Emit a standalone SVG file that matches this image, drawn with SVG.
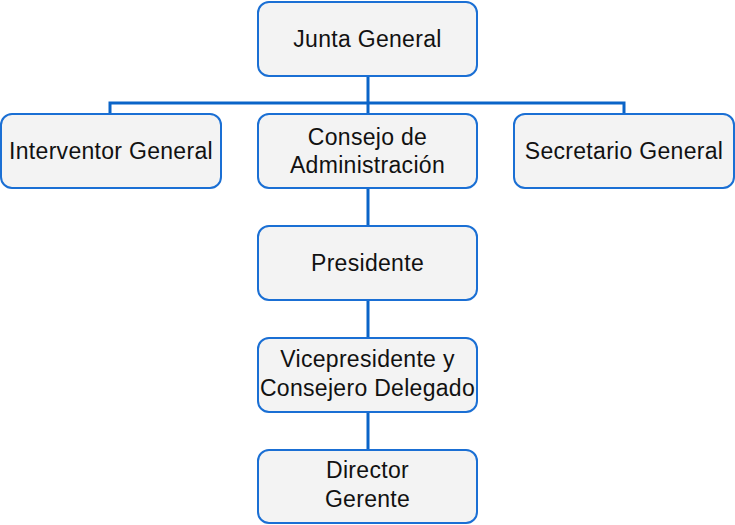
<svg xmlns="http://www.w3.org/2000/svg" width="735" height="525" viewBox="0 0 735 525">
<style>
.box{fill:#f3f3f3;stroke:#1a6fd4;stroke-width:2}
.t{font-family:"Liberation Sans",Arial,sans-serif;font-size:23px;letter-spacing:0.3px;fill:#111;text-anchor:middle}
.c{fill:none;stroke:#0a64c8;stroke-width:3}
</style>
<rect width="735" height="525" fill="#fff"/>
<g id="connectors">
<path class="c" d="M368,76 V114 M110,114 V103 H624 V114 M368,188 V226 M368,300 V338 M368,412 V450"/>
</g>
<g id="junta"><rect class="box" x="258" y="2" width="219" height="74" rx="11"/><text class="t" x="367.5" y="47">Junta General</text></g>
<g id="interventor"><rect class="box" x="1" y="114" width="220" height="74" rx="11"/><text class="t" x="111" y="159">Interventor General</text></g>
<g id="consejo"><rect class="box" x="258" y="114" width="219" height="74" rx="11"/><text class="t" x="367.5" y="145">Consejo de</text><text class="t" x="367.5" y="173">Administración</text></g>
<g id="secretario"><rect class="box" x="514" y="114" width="220" height="74" rx="11"/><text class="t" x="624" y="159">Secretario General</text></g>
<g id="presidente"><rect class="box" x="258" y="226" width="219" height="74" rx="11"/><text class="t" x="367.5" y="271">Presidente</text></g>
<g id="vicepresidente"><rect class="box" x="258" y="338" width="219" height="74" rx="11"/><text class="t" x="367.5" y="367">Vicepresidente y</text><text class="t" x="367.5" y="396">Consejero Delegado</text></g>
<g id="director"><rect class="box" x="258" y="450" width="219" height="73" rx="11"/><text class="t" x="367.5" y="478">Director</text><text class="t" x="367.5" y="507">Gerente</text></g>
</svg>
